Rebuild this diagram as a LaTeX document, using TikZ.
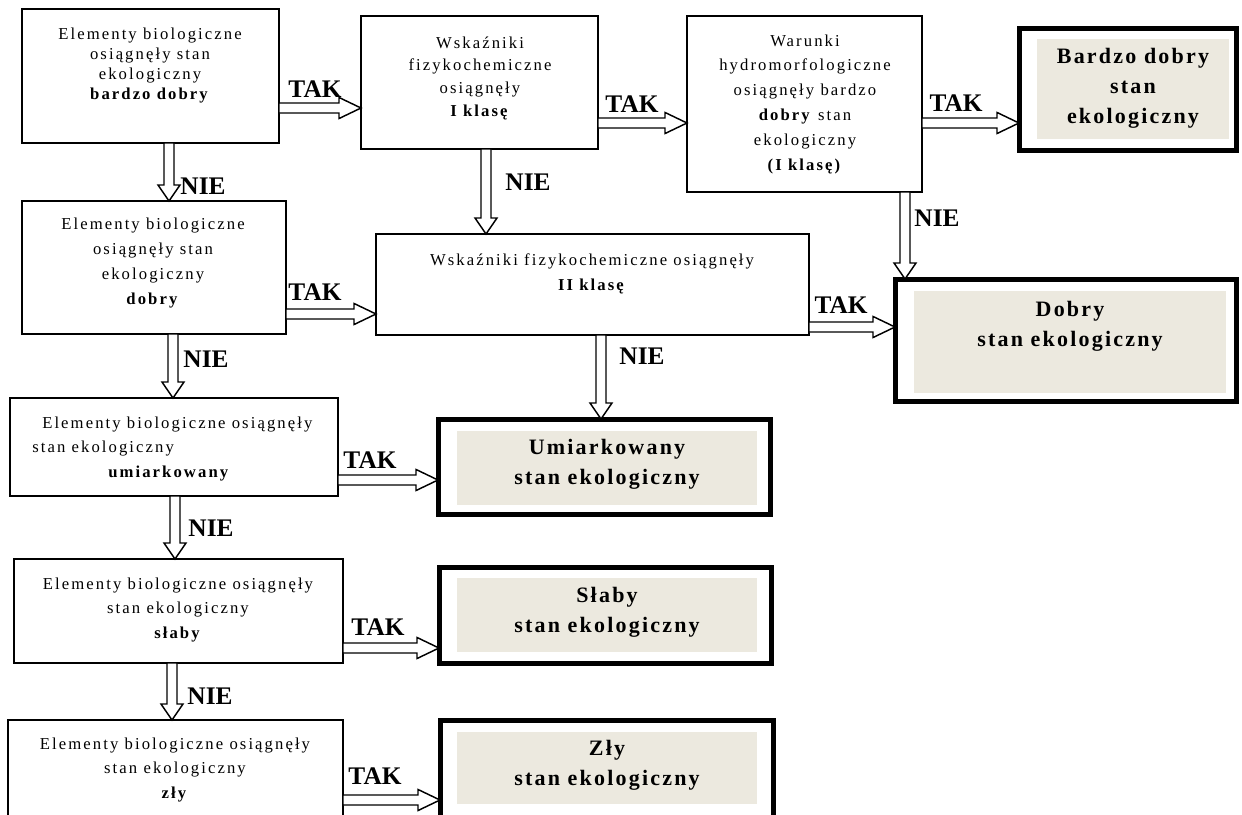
\documentclass[tikz,border=0pt]{standalone}
\usepackage{fontspec}
\setmainfont{Liberation Serif}
\newfontfamily\boxfont[LetterSpace=12.5]{Liberation Serif}
\newfontfamily\endfont[LetterSpace=10]{Liberation Serif}
\usetikzlibrary{calc}
\definecolor{endfill}{RGB}{236,233,223}

\begin{document}
\begin{tikzpicture}[x=0.75pt,y=-0.75pt,
    cond/.style={draw, line width=1.5pt, anchor=north west, inner sep=0pt, outer sep=0pt},
    final/.style={draw, line width=3.75pt, anchor=north west, inner sep=0pt, outer sep=0pt},
    shade/.style={fill=endfill, anchor=north west, inner sep=0pt, outer sep=0pt},
    txt/.style={font=\boxfont\fontsize{12.5}{18.6}\selectfont, align=center, inner sep=0pt},
    endtxt/.style={font=\endfont\bfseries\fontsize{16.5}{22.5}\selectfont, align=center, inner sep=0pt},
    lbl/.style={font=\bfseries\fontsize{19}{21}\selectfont, inner sep=0pt},
    tak/.style={draw, fill=white, line width=1.1pt, line join=miter,
        to path={let \p1=(\tikztostart), \p2=(\tikztotarget) in
            (\x1,{\y1+3.75pt}) -- ({\x2-16.5pt},{\y1+3.75pt}) -- ({\x2-16.5pt},{\y1+7.9pt})
            -- (\x2,\y1) -- ({\x2-16.5pt},{\y1-7.9pt}) -- ({\x2-16.5pt},{\y1-3.75pt})
            -- (\x1,{\y1-3.75pt}) -- cycle}},
    nie/.style={draw, fill=white, line width=1.1pt, line join=miter,
        to path={let \p1=(\tikztostart), \p2=(\tikztotarget) in
            ({\x1-3.75pt},\y1) -- ({\x1-3.75pt},{\y2+12pt}) -- ({\x1-8.25pt},{\y2+12pt})
            -- (\x1,\y2) -- ({\x1+8.25pt},{\y2+12pt}) -- ({\x1+3.75pt},{\y2+12pt})
            -- ({\x1+3.75pt},\y1) -- cycle}}]
    \useasboundingbox (0,0) rectangle (1242,814);
    \clip (0,0) rectangle (1242,814);

    % left column: biological elements
    \node[cond, minimum width=192.75pt, minimum height=100.5pt] (A1) at (22,9) {};
    \node[cond, minimum width=198pt, minimum height=99.75pt] (A2) at (22,201) {};
    \node[cond, minimum width=246pt, minimum height=73.5pt] (A3) at (10,398) {};
    \node[cond, minimum width=246.75pt, minimum height=78pt] (A4) at (14,559) {};
    \node[cond, minimum width=251.25pt, minimum height=82.5pt] (A5) at (8,720) {};

    % physico-chemical and hydromorphological checks
    \node[cond, minimum width=177.75pt, minimum height=99.75pt] (B1) at (361,16) {};
    \node[cond, minimum width=324.75pt, minimum height=75.75pt] (B2) at (376,234) {};
    \node[cond, minimum width=176.25pt, minimum height=132pt] (C1) at (687,16) {};

    % results
    \node[final, minimum width=162.75pt, minimum height=91.5pt] (D1) at (1019,28) {};
    \node[shade, minimum width=144pt, minimum height=75pt] (D1s) at (1037,39) {};
    \node[final, minimum width=255.75pt, minimum height=91.5pt] (D2) at (895,279) {};
    \node[shade, minimum width=234pt, minimum height=76.5pt] (D2s) at (914,291) {};
    \node[final, minimum width=249pt, minimum height=71.25pt] (E3) at (438,419) {};
    \node[shade, minimum width=225pt, minimum height=55.5pt] (E3s) at (457,431) {};
    \node[final, minimum width=249pt, minimum height=72pt] (E4) at (439,567) {};
    \node[shade, minimum width=225pt, minimum height=55.5pt] (E4s) at (457,578) {};
    \node[final, minimum width=249.75pt, minimum height=82.5pt] (E5) at (440,720) {};
    \node[shade, minimum width=225pt, minimum height=54pt] (E5s) at (457,732) {};

    % TAK arrows
    \draw[tak] (A1.east |- 0,108) to (B1.west |- 0,108);
    \draw[tak] (B1.east |- 0,123) to (C1.west |- 0,123);
    \draw[tak] (C1.east |- 0,123) to (D1.west |- 0,123);
    \draw[tak] (A2.east |- 0,314) to (B2.west |- 0,314);
    \draw[tak] (B2.east |- 0,327) to (D2.west |- 0,327);
    \draw[tak] (A3.east |- 0,480) to (E3.west |- 0,480);
    \draw[tak] (A4.east |- 0,648) to (E4.west |- 0,648);
    \draw[tak] (A5.east |- 0,800) to (E5.west |- 0,800);

    % NIE arrows
    \draw[nie] (A1.south -| 169,0) to (A2.north -| 169,0);
    \draw[nie] (B1.south -| 486,0) to (B2.north -| 486,0);
    \draw[nie] (C1.south -| 905,0) to (D2.north -| 905,0);
    \draw[nie] (B2.south -| 601,0) to (E3.north -| 601,0);
    \draw[nie] (A2.south -| 173,0) to (A3.north -| 173,0);
    \draw[nie] (A3.south -| 175,0) to (A4.north -| 175,0);
    \draw[nie] (A4.south -| 172,0) to (A5.north -| 172,0);

    \node[lbl] (tak1) at (315,89) {TAK};
    \node[lbl] (tak2) at (632,104) {TAK};
    \node[lbl] (tak3) at (956,103) {TAK};
    \node[lbl] (tak4) at (315,292) {TAK};
    \node[lbl] (tak5) at (841,305) {TAK};
    \node[lbl] (tak6) at (370,460) {TAK};
    \node[lbl] (tak7) at (378,627) {TAK};
    \node[lbl] (tak8) at (375,776) {TAK};
    \node[lbl] (nie1) at (203,186) {NIE};
    \node[lbl] (nie2) at (528,182) {NIE};
    \node[lbl] (nie3) at (937,218) {NIE};
    \node[lbl] (nie4) at (642,356) {NIE};
    \node[lbl] (nie5) at (206,359) {NIE};
    \node[lbl] (nie6) at (211,528) {NIE};
    \node[lbl] (nie7) at (210,696) {NIE};

    % texts
    \node[txt, font=\boxfont\fontsize{12.5}{15}\selectfont] (A1t) at (150,66)
        {Elementy biologiczne\\ osiągnęły stan\\ ekologiczny\\ \textbf{bardzo dobry}};
    \node[txt] (A2t) at (153,263)
        {Elementy biologiczne\\ osiągnęły stan\\ ekologiczny\\ \textbf{dobry}};
    \node[txt, align=left, anchor=west] (A3t) at (32,449)
        {\hspace*{7.5pt}Elementy biologiczne osiągnęły\\ stan ekologiczny\\ \hspace*{57pt}\textbf{umiarkowany}};
    \node[txt] (A4t) at (178,610)
        {Elementy biologiczne osiągnęły\\ stan ekologiczny\\ \textbf{słaby}};
    \node[txt] (A5t) at (175,770)
        {Elementy biologiczne osiągnęły\\ stan ekologiczny\\ \textbf{zły}};
    \node[txt, font=\boxfont\fontsize{12.5}{17}\selectfont] (B1t) at (480,78)
        {Wskaźniki\\ fizykochemiczne\\ osiągnęły\\ \textbf{I klasę}};
    \node[txt] (B2t) at (592,274)
        {Wskaźniki fizykochemiczne osiągnęły\\ \textbf{II klasę}};
    \node[txt] (C1t) at (805,104)
        {Warunki\\ hydromorfologiczne\\ osiągnęły bardzo\\ \textbf{dobry} stan\\ ekologiczny\\ \textbf{(I klasę)}};

    \node[endtxt] (D1t) at (1133,88) {Bardzo dobry\\ stan\\ ekologiczny};
    \node[endtxt] (D2t) at (1070,326) {Dobry\\ stan ekologiczny};
    \node[endtxt] (E3t) at (607,464) {Umiarkowany\\ stan ekologiczny};
    \node[endtxt] (E4t) at (607,612) {Słaby\\ stan ekologiczny};
    \node[endtxt] (E5t) at (607,765) {Zły\\ stan ekologiczny};
\end{tikzpicture}
\end{document}
